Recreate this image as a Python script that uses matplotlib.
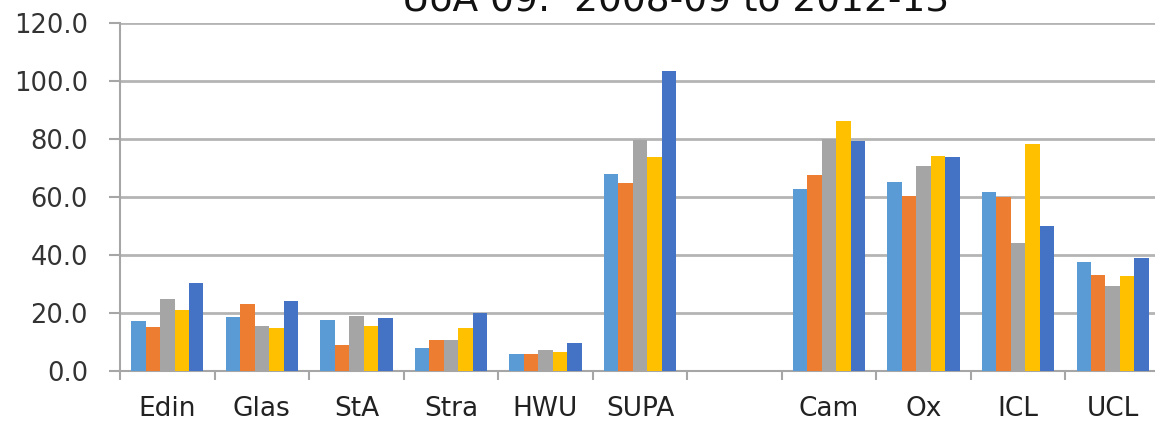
import matplotlib.pyplot as plt
import numpy as np

plt.rcParams['font.family'] = ['DejaVu Sans']

# data
categories = ["Edin", "Glas", "StA", "Stra", "HWU", "SUPA", "", "Cam", "Ox", "ICL", "UCL"]
s1 = [17.1, 18.6, 17.7, 7.9, 5.8, 67.9, 0, 62.9, 65.3, 61.7, 37.6]
s2 = [15.2, 23.1, 8.8, 10.8, 5.8, 64.7, 0, 67.7, 60.3, 60.1, 33.2]
s3 = [25.0, 15.6, 19.1, 10.8, 7.3, 79.6, 0, 79.9, 70.7, 44.0, 29.2]
s4 = [21.1, 14.7, 15.6, 14.7, 6.4, 73.9, 0, 86.1, 74.1, 78.2, 32.7]
s5 = [30.5, 24.1, 18.2, 19.9, 9.8, 103.4, 0, 79.2, 73.7, 50.0, 39.0]
series = [s1, s2, s3, s4, s5]
colors = ["#5B9BD5", "#ED7D31", "#A5A5A5", "#FFC000", "#4472C4"]
title = "UoA 09:  2008-09 to 2012-13"

W, H = 1155, 422
fig = plt.figure(figsize=(W / 100, H / 100), dpi=100)
# plot area runs slightly past the right edge of the image
ax = fig.add_axes([120 / W, 1 - 371 / H, 1040 / W, 348 / H])

x = np.arange(len(categories))
bw = 0.153
for i, (vals, c) in enumerate(zip(series, colors)):
    ax.bar(x + (i - 2) * bw, vals, width=bw, color=c, zorder=3)

ax.set_xlim(-0.5, len(categories) - 0.5)
ax.set_ylim(0, 120)
ax.set_yticks(np.arange(0, 121, 20))
ax.set_yticklabels([f"{v:.1f}" for v in np.arange(0, 121, 20)], fontsize=18.5, color="#333333")
ax.set_xticks(x)
ax.set_xticklabels(categories, fontsize=19, color="#222222")
ax.set_xticks(np.arange(-0.5, len(categories), 1), minor=True)
ax.tick_params(axis="x", which="major", length=0, pad=18)
ax.tick_params(axis="x", which="minor", length=6.5, width=1.5, color="#A6A6A6")
ax.tick_params(axis="y", length=8, width=1.5, color="#A6A6A6", pad=15)

ax.grid(axis="y", color="#B4B4B4", linewidth=2, zorder=0)
for side in ["top", "right"]:
    ax.spines[side].set_visible(False)
for side in ["left", "bottom"]:
    ax.spines[side].set_color("#A6A6A6")
    ax.spines[side].set_linewidth(1.5)

fig.text(676 / W, 1 - 12 / H, title, ha="center", va="baseline", fontsize=27, color="#111111")

fig.savefig("out.png", dpi=100)
